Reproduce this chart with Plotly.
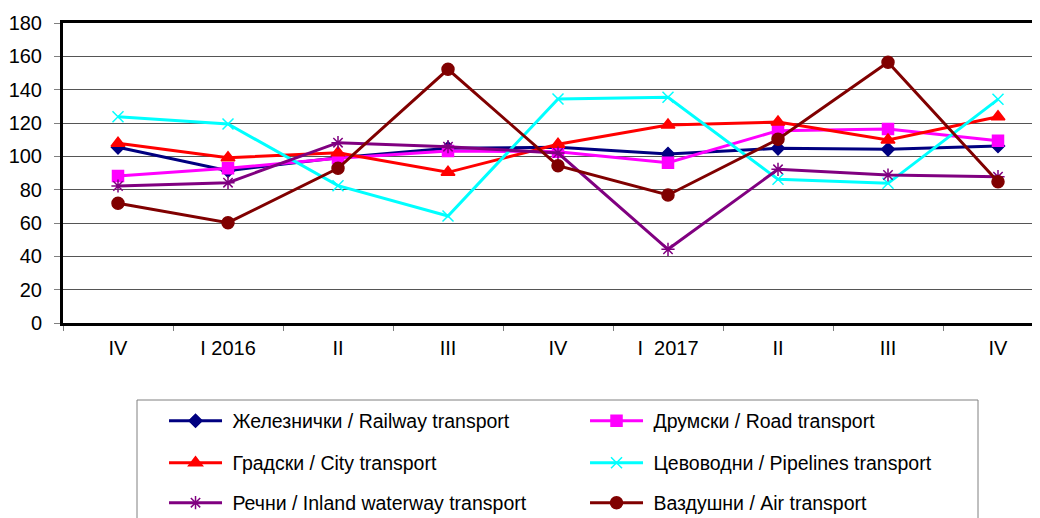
import plotly.graph_objects as go

# quarters on the x axis (IV 2015 ... IV 2017)
quarters = ["IV", "I 2016", "II", "III", "IV", "I\u00a0\u00a02017", "II", "III", "IV"]
y_ticks = [0, 20, 40, 60, 80, 100, 120, 140, 160, 180]

railway = [105.4, 91.4, 99.2, 104.8, 105.4, 101.4, 104.8, 104.2, 106.2]
road = [88.2, 92.8, 98.8, 103.2, 102.8, 96.2, 115.4, 116.4, 109.4]
city = [107.8, 99.2, 102.2, 90.4, 107.2, 118.8, 120.6, 109.8, 123.8]
pipelines = [123.8, 119.4, 82.4, 64.2, 134.4, 135.4, 86.2, 83.8, 134.2]
inland = [82.2, 84.2, 108.2, 105.8, 102.0, 44.2, 92.2, 88.8, 87.8]
air = [71.8, 60.2, 92.8, 152.2, 94.4, 76.8, 110.2, 156.4, 84.8]

names = ["Железнички / Railway transport", "Друмски / Road transport",
         "Градски / City transport", "Цевоводни / Pipelines transport",
         "Речни / Inland waterway transport", "Воздушни / Air transport"]
names[5] = "Вадушни / Air transport".replace("Вад", "Ваз" + "д")

series = [railway, road, city, pipelines, inland, air]
colors = ["#000080", "#FF00FF", "#FF0000", "#00FFFF", "#800080", "#800000"]
symbols = ["diamond", "square", "triangle-up", "x-thin-open", "asterisk-open", "circle"]
sizes = [10, 11, 12, 11, 11, 12]
legends = ["legend", "legend", "legend2", "legend2", "legend3", "legend3"]

FONT = "Liberation Sans, Arial, sans-serif"
x = list(range(len(quarters)))

fig = go.Figure()
for vals, name, col, sym, sz, lg in zip(series, names, colors, symbols, sizes, legends):
    fig.add_trace(go.Scatter(
        x=x, y=vals, name="\u00a0" + name, mode="lines+markers",
        line=dict(color=col, width=3),
        marker=dict(symbol=sym, size=sz, color=col, line=dict(color=col, width=1.5)),
        legend=lg))

# page has an 8px body margin, so the figure is shifted; plot area lands at 63..1040 x 23..323
fig.update_layout(
    width=1032, height=510,
    margin=dict(l=55, r=0, t=15, b=195, autoexpand=False),
    plot_bgcolor="white", paper_bgcolor="white",
    font=dict(family=FONT, size=20, color="black"),
    showlegend=True)

leg = dict(orientation="h", xanchor="left", yanchor="middle", x=0.1034,
           entrywidth=353, entrywidthmode="pixels", itemwidth=53,
           bgcolor="rgba(0,0,0,0)", borderwidth=0,
           font=dict(family=FONT, size=19.5, color="black"))
fig.update_layout(
    legend=dict(leg, y=-0.327),
    legend2=dict(leg, y=-0.467),
    legend3=dict(leg, y=-0.6))

# legend frame
fig.add_shape(type="rect", xref="paper", yref="paper",
              x0=(137 - 63) / 977, x1=(978 - 63) / 977,
              y0=(323 - 400) / 300, y1=(323 - 540) / 300,
              line=dict(color="#808080", width=1), fillcolor="rgba(0,0,0,0)")

fig.update_xaxes(
    range=[-0.5, (1040 - 118) / 110], tickmode="array", tickvals=x, ticktext=quarters,
    ticks="", showgrid=False, zeroline=False, automargin=False,
    showline=True, linecolor="black", linewidth=3, mirror=True,
    minor=dict(tickvals=[i - 0.5 for i in range(len(quarters) + 1)],
               ticks="outside", ticklen=5, tickcolor="#808080", showgrid=False),
    ticklabelstandoff=5)
fig.update_yaxes(
    range=[0, 180], tickmode="array", tickvals=y_ticks,
    ticks="outside", ticklen=6, tickcolor="#808080", automargin=False,
    showgrid=True, gridcolor="#555555", gridwidth=1, zeroline=False,
    showline=True, linecolor="black", linewidth=3,
    ticklabelstandoff=8)

fig.write_html("out.html")
